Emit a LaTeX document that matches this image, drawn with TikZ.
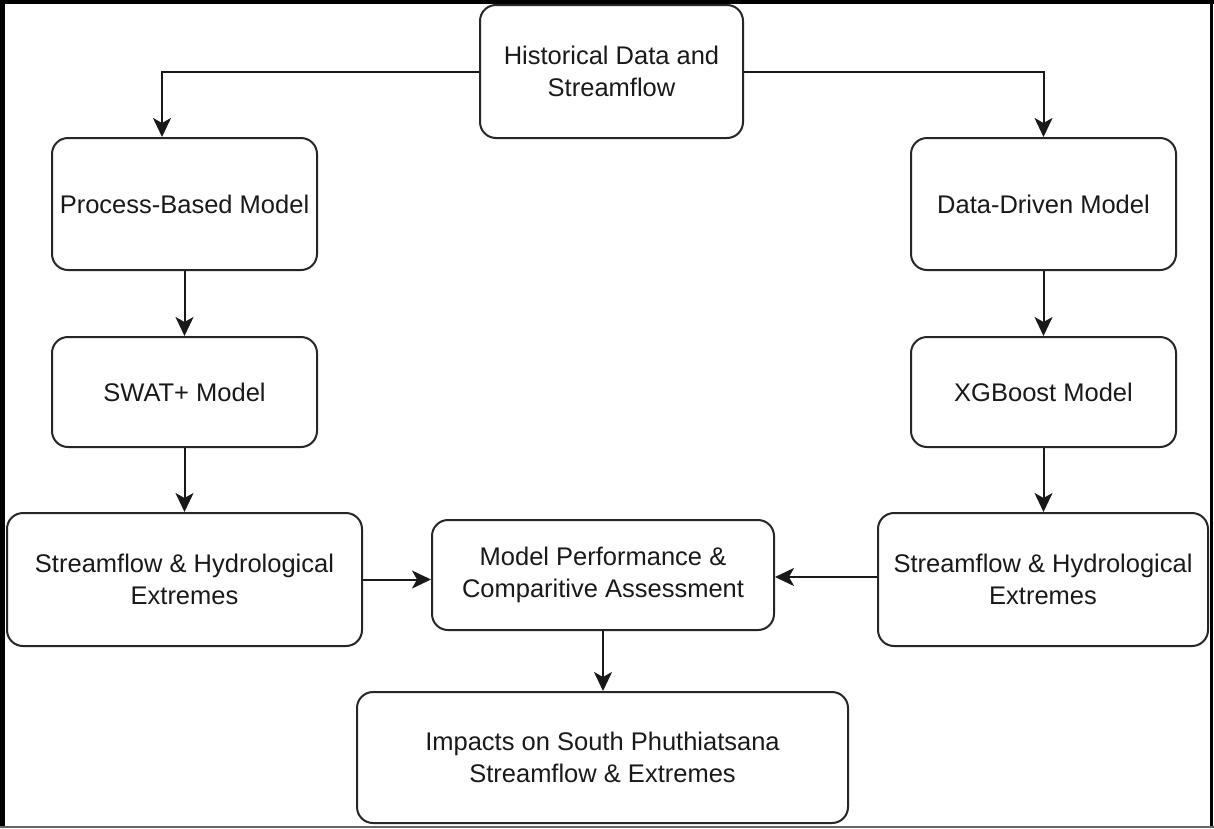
\documentclass[tikz,border=0pt]{standalone}
\usepackage{fontspec}
\setmainfont{Liberation Sans}
\usetikzlibrary{arrows.meta}
\begin{document}
\begin{tikzpicture}[x=1pt,y=-1pt,
  box/.style={draw=black!85, line width=2pt, rounded corners=16pt, align=center,
    font=\fontsize{25.5}{32}\selectfont, text=black!90, inner sep=0pt},
  arr/.style={draw=black!90, line width=2pt, -{Stealth[length=19pt,width=18pt,inset=5pt]}}]
\useasboundingbox (0,0) rectangle (1214,828);
% frame
\fill[black] (0,0) rectangle (1214,4);
\fill[black] (0,0) rectangle (5,828);
\fill[black] (1210,0) rectangle (1212.5,828);
\fill[black!60] (0,826) rectangle (1214,828);
% nodes
\node[box, minimum width=263pt, minimum height=133pt] (hist) at (611.5,71.5) {Historical Data and\\Streamflow};
\node[box, minimum width=265pt, minimum height=132pt] (proc) at (184.5,204) {Process-Based Model};
\node[box, minimum width=265pt, minimum height=110pt] (swat) at (184.5,392) {SWAT+ Model};
\node[box, minimum width=355pt, minimum height=133pt] (strL) at (184.5,579.5) {Streamflow \& Hydrological\\Extremes};
\node[box, minimum width=342pt, minimum height=110pt] (model) at (603,575) {Model Performance \&\\Comparitive Assessment};
\node[box, minimum width=330pt, minimum height=133pt] (strR) at (1043,579.5) {Streamflow \& Hydrological\\Extremes};
\node[box, minimum width=265pt, minimum height=132pt] (data) at (1043.5,204) {Data-Driven Model};
\node[box, minimum width=265pt, minimum height=110pt] (xgb) at (1043.5,392) {XGBoost Model};
\node[box, minimum width=491pt, minimum height=131pt] (imp) at (602.5,757.5) {Impacts on South Phuthiatsana\\Streamflow \& Extremes};
% connectors
\draw[arr] (hist.west) -| ([xshift=-22.5pt]proc.north);
\draw[arr] (hist.east) -| (data.north);
\draw[arr] (proc.south) -- (swat.north);
\draw[arr] (swat.south) -- (swat.south |- strL.north);
\draw[arr] (data.south) -- (xgb.north);
\draw[arr] (xgb.south) -- (xgb.south |- strR.north);
\draw[arr] (strL.east) -- (strL.east -| model.west);
\draw[arr] ([yshift=2.5pt]strR.west) -- ([yshift=2.5pt]strR.west -| model.east);
\draw[arr] (model.south) -- (model.south |- imp.north);
\end{tikzpicture}
\end{document}
